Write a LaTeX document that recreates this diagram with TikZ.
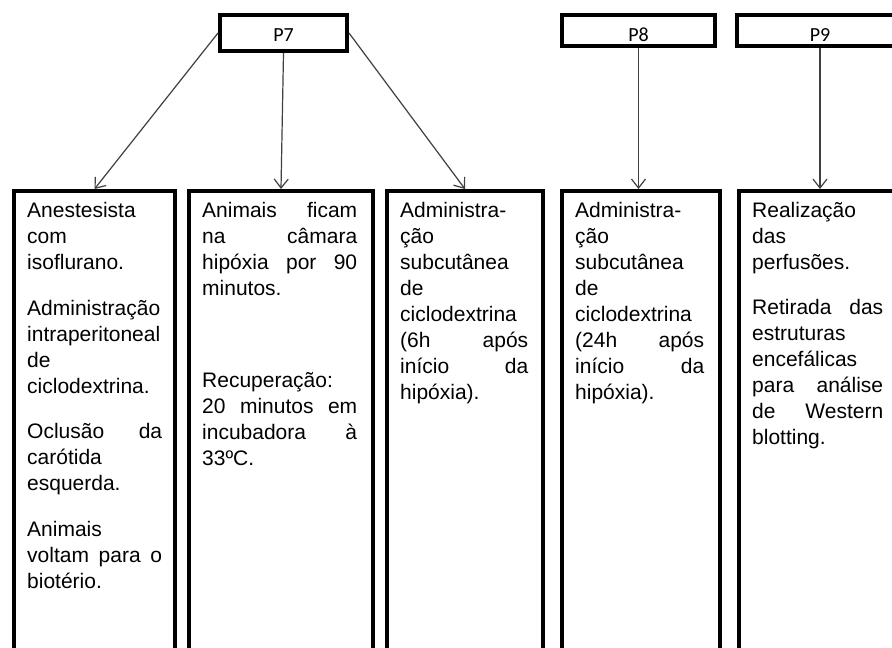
\documentclass[tikz,border=0pt]{standalone}
\usepackage{fontspec}
\setmainfont{Liberation Sans}
\newfontfamily\calibfont{Carlito}
\usetikzlibrary{arrows.meta}
\begin{document}
\begin{tikzpicture}[x=1pt,y=-1pt,
  topbox/.style={draw=black, line width=4pt, rectangle, inner sep=0pt, text depth=0pt,
    font=\calibfont\fontsize{20}{22}\selectfont},
  colbox/.style={draw=black, line width=4pt, rectangle, inner sep=0pt, minimum height=529pt},
  coltext/.style={anchor=north west, inner sep=0pt, align=left,
    font=\fontsize{21}{26}\selectfont},
  conn/.style={draw=black!75, line width=1.2pt, -{Straight Barb[length=9pt,width=14pt]}}]
\useasboundingbox (0,0) rectangle (892,648);
\clip (0,0) rectangle (892,648);
\fill[white] (0,0) rectangle (892,648);
% top boxes
\node[topbox, minimum width=127pt, minimum height=36pt, text height=17.4pt] (p7) at (283.5,33) {P7};
\node[topbox, minimum width=153pt, minimum height=31pt, text height=21pt] (p8) at (638.5,30.5) {P8};
\node[topbox, minimum width=166pt, minimum height=31pt, text height=21pt] (p9) at (820,30.5) {P9};
% column boxes
\node[colbox, minimum width=161pt] (b1) at (94.5,455.5) {};
\node[colbox, minimum width=184pt] (b2) at (281,455.5) {};
\node[colbox, minimum width=156pt] (b3) at (465,455.5) {};
\node[colbox, minimum width=158pt] (b4) at (641,455.5) {};
\node[colbox, minimum width=160pt] (b5) at (819,455.5) {};
% texts
\node[coltext, text width=135pt] (t1) at (27,195) {\rule{0pt}{22pt}Anestesista\\ com\\ isoflurano.\\[20pt]
  Administração\\ intraperitoneal\\ de\\ ciclodextrina.\\[19pt]
  Oclusão\hfill da\\ carótida\\ esquerda.\\[20pt]
  Animais\\ voltam\hfill para\hfill o\\ biotério.};
\node[coltext, text width=155pt] (t2) at (202,195) {\rule{0pt}{22pt}Animais\hfill ficam\\ na\hfill câmara\\ hipóxia\hfill por\hfill 90\\ minutos.\\[66pt]
  Recuperação:\\ 20\hfill minutos\hfill em\\ incubadora\hfill à\\ 33ºC.};
\node[coltext, text width=128pt] (t3) at (400,195) {\rule{0pt}{22pt}Administra-\\ ção\\ subcutânea\\ de\\ ciclodextrina\\ (6h\hfill após\\ início\hfill da\\ hipóxia).};
\node[coltext, text width=129pt] (t4) at (575,195) {\rule{0pt}{22pt}Administra-\\ ção\\ subcutânea\\ de\\ ciclodextrina\\ (24h\hfill após\\ início\hfill da\\ hipóxia).};
\node[coltext, text width=131pt] (t5) at (752,195) {\rule{0pt}{22pt}Realização\\ das\\ perfusões.\\[19pt]
  Retirada\hfill das\\ estruturas\\ encefálicas\\ para\hfill análise\\ de\hfill Western\\ blotting.};
% connectors
\draw[conn] (p7.west) -- (b1.north);
\draw[conn] (p7.south) -- (b2.north);
\draw[conn] (p7.east) -- (b3.north);
\draw[conn] (p8.south) -- (p8.south |- b4.north);
\draw[conn] (p9.south) -- (p9.south |- b5.north);
\end{tikzpicture}
\end{document}
